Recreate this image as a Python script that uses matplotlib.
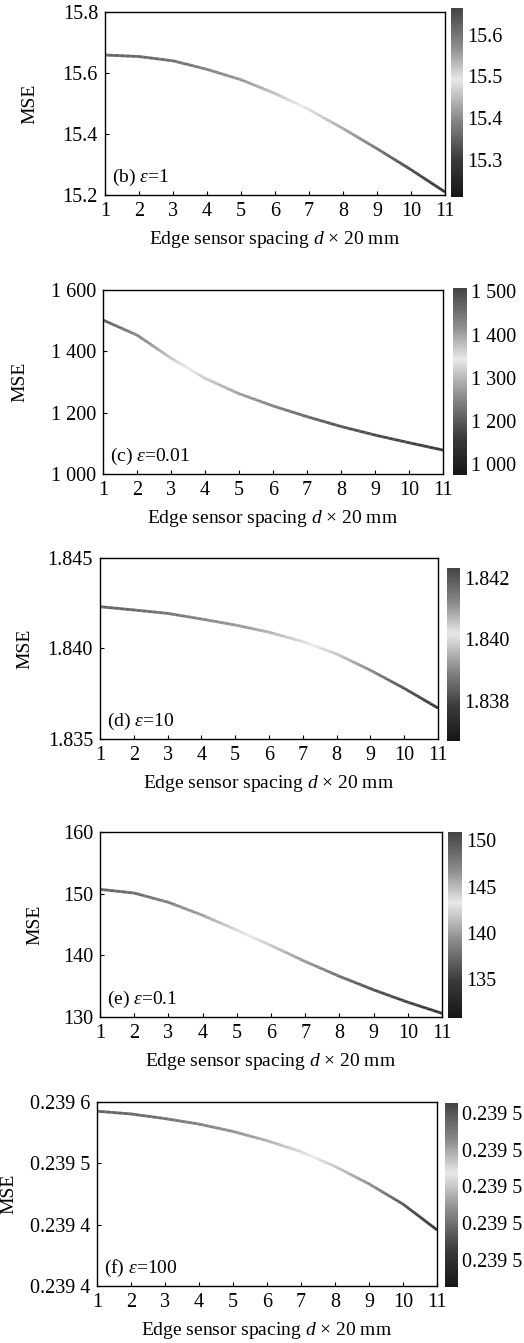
import numpy as np
import matplotlib
matplotlib.use("Agg")
import matplotlib.pyplot as plt
from matplotlib.collections import LineCollection
from matplotlib.colors import LinearSegmentedColormap, Normalize

plt.rcParams['font.family'] = ['Liberation Serif', 'DejaVu Serif']
plt.rcParams['mathtext.fontset'] = 'custom'
plt.rcParams['mathtext.rm'] = 'Liberation Serif'
plt.rcParams['mathtext.it'] = 'Liberation Serif:italic'

# data
spacing = [1, 2, 3, 4, 5, 6, 7, 8, 9, 10, 11]

mse_b = [15.659, 15.654, 15.640, 15.612, 15.578, 15.533, 15.480, 15.418, 15.352, 15.283, 15.210]
mse_c = [1502, 1453, 1378, 1312, 1262, 1222, 1187, 1155, 1127, 1102, 1078]
mse_d = [1.84231, 1.84213, 1.84194, 1.84163, 1.84130, 1.84090, 1.84038, 1.83970, 1.83880, 1.83780, 1.83671]
mse_e = [150.7, 150.1, 148.6, 146.5, 144.1, 141.6, 139.0, 136.6, 134.4, 132.4, 130.6]
mse_f = [0.239590, 0.239587, 0.239582, 0.239576, 0.239568, 0.239558,
         0.239546, 0.239530, 0.239511, 0.239489, 0.239461]

labels = ['(b) $\\varepsilon$=1', '(c) $\\varepsilon$=0.01', '(d) $\\varepsilon$=10',
          '(e) $\\varepsilon$=0.1', '(f) $\\varepsilon$=100']

ylims = [(15.2, 15.8), (1000, 1600), (1.835, 1.845), (130, 160), (0.2394, 0.2396)]
yticks = [[15.2, 15.4, 15.6, 15.8], [1000, 1200, 1400, 1600],
          [1.835, 1.840, 1.845], [130, 140, 150, 160],
          list(np.linspace(0.2394, 0.2396, 4))]
yticklabels = [['15.2', '15.4', '15.6', '15.8'], ['1 000', '1 200', '1 400', '1 600'],
               ['1.835', '1.840', '1.845'], ['130', '140', '150', '160'],
               ['0.239 4', '0.239 4', '0.239 5', '0.239 6']]

cb_lims = [(15.21, 15.664), (1075, 1508), (1.83671, 1.84231), (130.8, 150.9), (0.239461, 0.23959)]
cb_ticks = [[15.3, 15.4, 15.5, 15.6], [1100, 1200, 1300, 1400, 1500],
            [1.838, 1.840, 1.842], [135, 140, 145, 150],
            list(np.linspace(0.23948, 0.239583, 5))]
cb_ticklabels = [['15.3', '15.4', '15.5', '15.6'], ['1 000', '1 200', '1 300', '1 400', '1 500'],
                 ['1.838', '1.840', '1.842'], ['135', '140', '145', '150'],
                 ['0.239 5'] * 5]

series = [mse_b, mse_c, mse_d, mse_e, mse_f]

# pixel layout (left, right, top, bottom) of plot and colorbar, x of the MSE label
W, H = 524, 1343
ax_px = [(105, 445, 12, 195), (103, 443, 290, 474), (100, 438, 558, 739),
         (100, 442, 832, 1017), (97, 437, 1102, 1286)]
cb_px = [(451, 463, 8, 197), (453, 467, 288, 475), (447, 460, 568, 741),
         (448, 462, 832, 1018), (445, 458, 1103, 1287)]
ylab_px = [38, 28, 33, 43, 17]

cmap = LinearSegmentedColormap.from_list('grays2', [
    (0.0, '#161616'), (0.2, '#3a3a3a'), (0.42, '#8c8c8c'),
    (0.62, '#e8e8e8'), (0.8, '#8a8a8a'), (1.0, '#444444')])

fig = plt.figure(figsize=(W / 100, H / 100), dpi=100)
fs = 14.5

for i in range(5):
    l, r, t, b = ax_px[i]
    ax = fig.add_axes([l / W, 1 - b / H, (r - l) / W, (b - t) / H])
    x = np.array(spacing, dtype=float)
    y = np.array(series[i], dtype=float)
    # split each segment into short pieces so the colour changes smoothly
    xs = np.linspace(x[0], x[-1], 400)
    ys = np.interp(xs, x, y)
    pts = np.array([xs, ys]).T.reshape(-1, 1, 2)
    segs = np.concatenate([pts[:-1], pts[1:]], axis=1)
    norm = Normalize(*cb_lims[i])
    lc = LineCollection(segs, cmap=cmap, norm=norm, linewidth=2.0)
    lc.set_array((ys[:-1] + ys[1:]) / 2)
    ax.add_collection(lc)
    ax.set_xlim(1, 11)
    ax.set_ylim(*ylims[i])
    ax.set_xticks(spacing)
    ax.set_xticklabels([str(s) for s in spacing], fontsize=fs)
    ax.set_yticks(yticks[i])
    ax.set_yticklabels(yticklabels[i], fontsize=fs)
    ax.tick_params(direction='in', length=3, width=0.8, top=False, right=False, pad=5)
    for sp in ax.spines.values():
        sp.set_linewidth(1.0)
    ax.set_ylabel('MSE', fontsize=fs - 0.5)
    ax.yaxis.set_label_coords((ylab_px[i] - l) / (r - l), 0.5)
    ax.set_xlabel('Edge sensor spacing $d$ × 20 mm', fontsize=fs - 0.5, labelpad=6)
    ax.text(0.02, 0.095, labels[i], transform=ax.transAxes, fontsize=fs - 0.5, va='center')

    cl, cr, ct, cbt = cb_px[i]
    cax = fig.add_axes([cl / W, 1 - cbt / H, (cr - cl) / W, (cbt - ct) / H])
    sm = plt.cm.ScalarMappable(norm=norm, cmap=cmap)
    cb = fig.colorbar(sm, cax=cax)
    cb.outline.set_visible(False)
    cb.set_ticks(cb_ticks[i])
    cb.set_ticklabels(cb_ticklabels[i])
    cax.tick_params(length=0, labelsize=fs, pad=3)

plt.savefig('out.png', dpi=100)
